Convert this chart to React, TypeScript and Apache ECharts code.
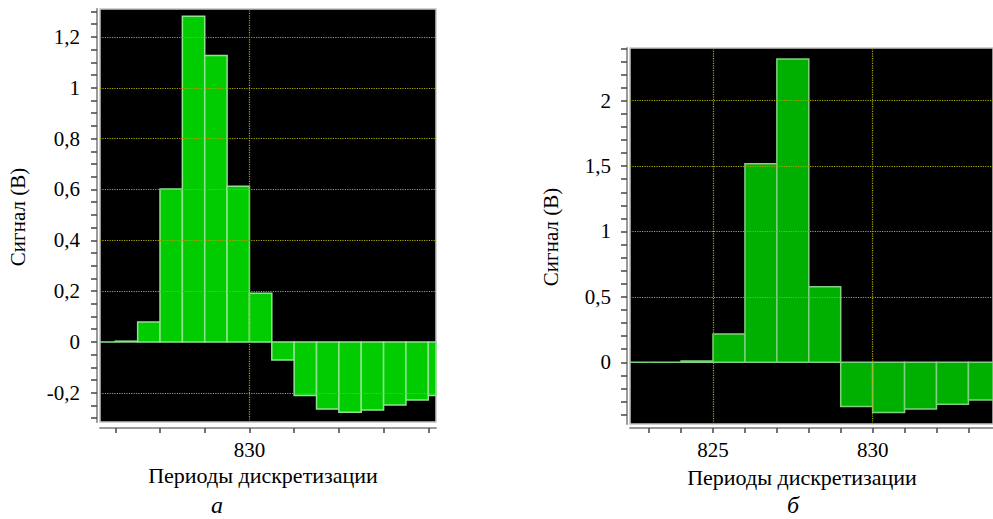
import React, { useEffect, useRef } from "react";
import * as echarts from "echarts";

// Left panel (а): half-period samples, each bar 0.5 period wide
const leftStarts = [826.5, 827, 827.5, 828, 828.5, 829, 829.5, 830, 830.5, 831, 831.5, 832, 832.5, 833, 833.5, 834];
const leftValues = [0, 0.003, 0.078, 0.602, 1.281, 1.127, 0.613, 0.192, -0.071, -0.211, -0.264, -0.277, -0.268, -0.248, -0.228, -0.211];
const leftWidth = 0.5;
const leftYLabels = [-0.2, 0, 0.2, 0.4, 0.6, 0.8, 1, 1.2];
const leftXTicks = [827, 828, 829, 830, 831, 832, 833, 834];
const leftXLabels = [830];
const leftXGrid = [830];

// Right panel (б): one-period samples
const rightStarts = [822, 823, 824, 825, 826, 827, 828, 829, 830, 831, 832, 833];
const rightValues = [0, 0, 0.01, 0.216, 1.518, 2.319, 0.578, -0.339, -0.385, -0.357, -0.321, -0.288];
const rightWidth = 1;
const rightYLabels = [0, 0.5, 1, 1.5, 2];
const rightXTicks = [823, 824, 825, 826, 827, 828, 829, 830, 831, 832, 833];
const rightXLabels = [825, 830];
const rightXGrid = [825, 830];

const FONT = "Liberation Serif";

function steps(from: number, to: number, step: number): number[] {
  const out: number[] = [];
  for (let v = from; v <= to + 1e-9; v += step) out.push(Math.round(v * 1000) / 1000);
  return out;
}

function fmt(v: number | string) {
  return String(v).replace(".", ",");
}

function barRenderer(width: number, fill: string, stroke: string) {
  return (params: any, api: any) => {
    const x0 = api.value(0);
    const v = api.value(1);
    const a = api.coord([x0, 0]);
    const b = api.coord([x0 + width, v]);
    const cs = params.coordSys;
    const rect = echarts.graphic.clipRectByRect(
      {
        x: Math.min(a[0], b[0]),
        y: Math.min(a[1], b[1]),
        width: Math.abs(b[0] - a[0]),
        height: Math.abs(b[1] - a[1]),
      },
      { x: cs.x, y: cs.y, width: cs.width, height: cs.height }
    );
    if (!rect) return null;
    return {
      type: "rect",
      shape: rect,
      style: { fill, stroke, lineWidth: 1.5 },
    };
  };
}

export default function App() {
  const ref = useRef<HTMLDivElement>(null);

  useEffect(() => {
    if (!ref.current) return;
    const chart = echarts.init(ref.current, null, { renderer: "svg" });

    const axisText = { fontFamily: FONT, fontSize: 21, color: "#000" };
    const gridLine = { color: "#a8a800", type: "dotted" as const, width: 1.2 };

    const makeY = (gridIndex: number, min: number, max: number, labels: number[], tickStep: number, labelStep: number, margin: number) => ({
      type: "value",
      gridIndex,
      min,
      max,
      minInterval: labelStep,
      maxInterval: labelStep,
      offset: 3,
      axisLine: { show: true, lineStyle: { color: "#9a9a9a", width: 2 } },
      axisTick: {
        show: true,
        length: 6,
        inside: false,
        lineStyle: { color: "#444", width: 1.5 },
        customValues: steps(Math.ceil(min / tickStep) * tickStep, max, tickStep),
      },
      axisLabel: {
        ...axisText,
        margin,
        customValues: labels,
        formatter: (v: number) => fmt(v),
      },
      splitLine: { show: false },
    });

    const makeX = (gridIndex: number, min: number, max: number, ticks: number[], labels: number[], offset: number) => ({
      type: "value",
      gridIndex,
      min,
      max,
      minInterval: 1,
      maxInterval: 1,
      offset,
      axisLine: { show: true, onZero: false, lineStyle: { color: "#9a9a9a", width: 2 } },
      axisTick: {
        show: true,
        length: 5,
        inside: false,
        lineStyle: { color: "#444", width: 1.5 },
        customValues: ticks,
      },
      axisLabel: {
        ...axisText,
        margin: 11,
        customValues: labels,
        formatter: (v: number) => String(v),
      },
      splitLine: { show: false },
    });

    const gridMarks = (yVals: number[], xVals: number[]) => ({
      silent: true,
      symbol: "none",
      label: { show: false },
      lineStyle: gridLine,
      emphasis: { disabled: true },
      data: [...yVals.map((y) => ({ yAxis: y })), ...xVals.map((x) => ({ xAxis: x }))],
    });

    const textStyle = (text: string, size: number, italic = false) => ({
      text,
      fontFamily: FONT,
      fontSize: size,
      fontStyle: italic ? "italic" : "normal",
      fill: "#000",
      align: "center",
      verticalAlign: "middle",
    });

    chart.setOption({
      animation: false,
      backgroundColor: "#fff",
      grid: [
        { left: 100, top: 9, width: 336, height: 413, show: true, backgroundColor: "#000", borderColor: "#c4c4c4", borderWidth: 1.5 },
        { left: 630, top: 48, width: 363, height: 376, show: true, backgroundColor: "#000", borderColor: "#c4c4c4", borderWidth: 1.5 },
      ],
      xAxis: [
        makeX(0, 826.658, 834.172, leftXTicks, leftXLabels, 6),
        makeX(1, 822.4, 833.77, rightXTicks, rightXLabels, 4),
      ],
      yAxis: [
        makeY(0, -0.315, 1.31, leftYLabels, 0.05, 0.2, 17),
        makeY(1, -0.472, 2.403, rightYLabels, 0.1, 0.5, 16),
      ],
      series: [
        {
          type: "custom",
          xAxisIndex: 0,
          yAxisIndex: 0,
          z: 2,
          renderItem: barRenderer(leftWidth, "#00cc00", "#8ee48e"),
          encode: { x: 0, y: 1 },
          data: leftStarts.map((x, i) => [x, leftValues[i]]),
        },
        {
          type: "line",
          xAxisIndex: 0,
          yAxisIndex: 0,
          z: 5,
          data: [],
          markLine: gridMarks(leftYLabels.filter((v) => v !== 0), leftXGrid),
        },
        {
          type: "line",
          xAxisIndex: 1,
          yAxisIndex: 1,
          z: 1,
          data: [],
          markLine: gridMarks(rightYLabels.filter((v) => v !== 0), rightXGrid),
        },
        {
          type: "custom",
          xAxisIndex: 1,
          yAxisIndex: 1,
          z: 3,
          renderItem: barRenderer(rightWidth, "#00b000", "#7fd07f"),
          encode: { x: 0, y: 1 },
          data: rightStarts.map((x, i) => [x, rightValues[i]]),
        },
      ],
      graphic: [
        { type: "text", x: 18, y: 217, rotation: Math.PI / 2, style: textStyle("Сигнал (В)", 21) },
        { type: "text", x: 551, y: 237, rotation: Math.PI / 2, style: textStyle("Сигнал (В)", 21) },
        { type: "text", x: 263, y: 475, style: textStyle("Периоды дискретизации", 22) },
        { type: "text", x: 802, y: 477, style: textStyle("Периоды дискретизации", 22) },
        { type: "text", x: 217, y: 505, style: textStyle("а", 24, true) },
        { type: "text", x: 793, y: 505, style: textStyle("б", 24, true) },
      ],
    });

    return () => chart.dispose();
  }, []);

  return (
    <div
      ref={ref}
      style={{ position: "absolute", left: 0, top: 0, width: 993, height: 519 }}
    />
  );
}
